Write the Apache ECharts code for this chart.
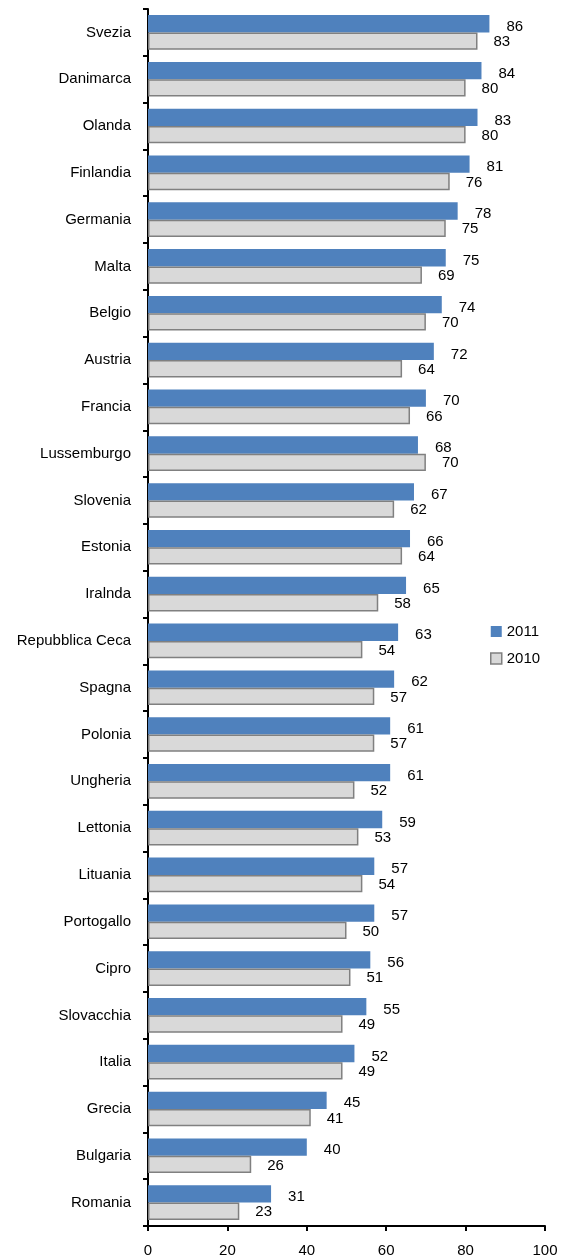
<!DOCTYPE html>
<html><head><meta charset="utf-8">
<script src="https://cdn.jsdelivr.net/npm/echarts@6/dist/echarts.min.js"></script>
<style>html,body{margin:0;padding:0;background:#fff}#c{width:571px;height:1258px}</style>
</head><body><div id="c"></div>
<script>
const categories = ["Svezia","Danimarca","Olanda","Finlandia","Germania","Malta","Belgio","Austria","Francia","Lussemburgo","Slovenia","Estonia","Iralnda","Repubblica Ceca","Spagna","Polonia","Ungheria","Lettonia","Lituania","Portogallo","Cipro","Slovacchia","Italia","Grecia","Bulgaria","Romania"];
const values2011 = [86,84,83,81,78,75,74,72,70,68,67,66,65,63,62,61,61,59,57,57,56,55,52,45,40,31];
const values2010 = [83,80,80,76,75,69,70,64,66,70,62,64,58,54,57,57,52,53,54,50,51,49,49,41,26,23];
const xTicks = [0,20,40,60,80,100];

const font = 'Liberation Sans, Arial, sans-serif';
const chart = echarts.init(document.getElementById('c'), null, {renderer:'canvas'});
chart.setOption({
  animation:false,
  grid:{left:148,right:26,top:9,bottom:32,containLabel:false},
  legend:{
    left:490, top:624, padding:0, orient:'vertical', itemGap:12, itemWidth:11, itemHeight:11,
    icon:'rect', itemStyle:{borderWidth:0},
    textStyle:{fontFamily:font,fontSize:15,color:'#000'},
    data:[{name:'2011',itemStyle:{color:'#4F81BD',borderWidth:0}},{name:'2010',itemStyle:{color:'#D9D9D9',borderColor:'#808080',borderWidth:1.5}}]
  },
  xAxis:{
    type:'value', min:xTicks[0], max:xTicks[xTicks.length-1], interval:20,
    splitLine:{show:false},
    axisLine:{show:true,lineStyle:{color:'#000',width:2}},
    axisTick:{show:true,length:5,lineStyle:{color:'#000',width:2}},
    axisLabel:{fontFamily:font,fontSize:15,color:'#000',margin:17}
  },
  yAxis:{
    type:'category', data:categories, inverse:true,
    axisLine:{show:true,lineStyle:{color:'#000',width:2}},
    axisTick:{show:true,length:5,lineStyle:{color:'#000',width:2}},
    axisLabel:{fontFamily:font,fontSize:15,color:'#000',margin:17}
  },
  series:[
    {name:'2011',type:'bar',data:values2011,barGap:'0%',barCategoryGap:'26%',
     itemStyle:{color:'#4F81BD'},
     label:{show:true,position:'right',distance:17,offset:[0,3],fontFamily:font,fontSize:15,color:'#000'}},
    {name:'2010',type:'bar',data:values2010,
     itemStyle:{color:'#D9D9D9',borderColor:'#808080',borderWidth:1.5},
     label:{show:true,position:'right',distance:16,offset:[0,1],fontFamily:font,fontSize:15,color:'#000'}}
  ]
});
</script></body></html>
